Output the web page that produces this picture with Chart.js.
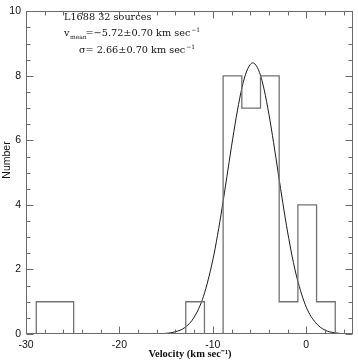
<!DOCTYPE html>
<html><head><meta charset="utf-8">
<script src="https://cdn.jsdelivr.net/npm/chart.js@4.4.1/dist/chart.umd.min.js"></script>
<style>html,body{margin:0;padding:0;background:#fff;}#wrap{width:358px;height:362px;}</style>
</head><body><div id="wrap"><canvas id="c" width="358" height="362"></canvas></div>
<script>
// Histogram (bin edges in km/s, counts per bin)
const binEdges = [-28.9,-26.9,-24.9,-22.9,-20.9,-18.9,-16.9,-14.9,-12.9,-10.9,-8.9,-6.9,-4.9,-2.9,-0.9,1.1,3.1];
const binCounts = [1,1,0,0,0,0,0,0,1,0,8,7,8,1,4,1];
// Gaussian fit curve
const fitX = [-16,-15,-14,-13,-12,-11,-10,-9.5,-9,-8.5,-8,-7.5,-7,-6.5,-6,-5.75,-5.5,-5,-4.5,-4,-3.5,-3,-2.5,-2,-1.5,-1,0,1,2,3,4,5];
const fitY = [0.01,0.02,0.07,0.20,0.52,1.17,2.30,3.06,3.93,4.87,5.82,6.71,7.48,8.05,8.35,8.40,8.37,8.10,7.56,6.81,5.93,4.98,4.04,3.16,2.39,1.74,0.83,0.35,0.12,0.04,0.01,0.00];
// Tick labels
const xTickLabels = [-30,-20,-10,0];
const yTickLabels = [0,2,4,6,8,10];
const xMinorStep = 2, yMinorStep = 0.5;
const annotation = {
  line1: 'L1688 32 sources',
  vSymbol: 'v', vSub: 'mean', vText: '=\u22125.72\u00b10.70 km sec', unitSup: '\u22121',
  sSymbol: '\u03c3', sText: '= 2.66\u00b10.70 km sec'
};
const xTitle = 'Velocity (km sec\u207b\u00b9)';
const yTitle = 'Number';

const histPts = [{x: binEdges[0], y: 0}];
binCounts.forEach((c, i) => histPts.push({x: binEdges[i], y: c}));
histPts.push({x: binEdges[binEdges.length - 1], y: 0});
const fitPts = fitX.map((v, i) => ({x: v, y: fitY[i]}));

const frame = {
  id: 'frame',
  afterDatasetsDraw(chart) {
    const {ctx, chartArea: a, scales: {x, y}} = chart;
    const L = Math.round(a.left) + 0.5, R = Math.round(a.right) - 0.5;
    const T = Math.round(a.top) + 0.5, B = Math.round(a.bottom) - 0.5;
    ctx.save();
    ctx.strokeStyle = '#6a6a6a';
    ctx.lineWidth = 1;
    ctx.strokeRect(L, T, R - L, B - T);
    ctx.beginPath();
    const xmin = x.min, xmax = x.max, ymin = y.min, ymax = y.max;
    for (let v = xmin; v <= xmax + 1e-9; v += xMinorStep) {
      const major = xTickLabels.includes(Math.round(v));
      const len = major ? 7 : 4;
      const px = Math.round(x.getPixelForValue(v)) + 0.5;
      ctx.moveTo(px, B); ctx.lineTo(px, B - len);
      ctx.moveTo(px, T); ctx.lineTo(px, T + len);
    }
    for (let v = ymin; v <= ymax + 1e-9; v += yMinorStep) {
      const major = yTickLabels.includes(v);
      const len = major ? 7 : 4;
      const py = Math.round(y.getPixelForValue(v)) + 0.5;
      ctx.moveTo(L, py); ctx.lineTo(L + len, py);
      ctx.moveTo(R, py); ctx.lineTo(R - len, py);
    }
    ctx.stroke();

    // annotation text
    ctx.fillStyle = '#111';
    ctx.textBaseline = 'alphabetic';
    ctx.textAlign = 'left';
    const big = '9.7px "DejaVu Serif"', small = '6px "DejaVu Serif"';
    ctx.font = big;
    ctx.fillText(annotation.line1, 64, 20);
    ctx.fillText(annotation.vSymbol, 64, 36);
    ctx.font = small;
    ctx.fillText(annotation.vSub, 70, 38.5);
    ctx.font = big;
    const eqX = 85.5;
    ctx.fillText(annotation.vText, eqX, 36);
    let w = ctx.measureText(annotation.vText).width;
    ctx.font = small;
    ctx.fillText(annotation.unitSup, eqX + w + 1, 32);
    ctx.font = big;
    ctx.fillText(annotation.sSymbol, 79, 53);
    ctx.fillText(annotation.sText, eqX, 53);
    w = ctx.measureText(annotation.sText).width;
    ctx.font = small;
    ctx.fillText(annotation.unitSup, eqX + w + 1, 49);

    // axis titles
    ctx.font = 'bold 10.5px "Liberation Serif"';
    ctx.textAlign = 'center';
    ctx.textBaseline = 'middle';
    ctx.fillText(xTitle, 190, 354.5);
    ctx.font = '10.5px "Liberation Sans"';
    ctx.translate(7.5, 160);
    ctx.rotate(-Math.PI / 2);
    ctx.fillText(yTitle, 0, 0);
    ctx.restore();
  }
};

new Chart(document.getElementById('c'), {
  type: 'scatter',
  data: {
    datasets: [
      {data: histPts, showLine: true, stepped: true, borderColor: '#727272', borderWidth: 1.3, pointRadius: 0, fill: false},
      {data: fitPts, showLine: true, cubicInterpolationMode: 'monotone', borderColor: '#1a1a1a', borderWidth: 1, pointRadius: 0, fill: false}
    ]
  },
  options: {
    responsive: false,
    animation: false,
    devicePixelRatio: 1,
    layout: {padding: {top: 3, right: 1, left: 0, bottom: 0}},
    plugins: {legend: {display: false}, tooltip: {enabled: false}},
    scales: {
      x: {
        type: 'linear', min: -30, max: 5,
        grid: {display: false, drawTicks: false},
        border: {display: false},
        ticks: {
          stepSize: 10, padding: 5, maxRotation: 0, autoSkip: false,
          color: '#111', font: {family: 'Liberation Sans', size: 10.5},
          callback: v => xTickLabels.includes(v) ? String(v) : ''
        },
        afterFit: s => { s.height = 28; }
      },
      y: {
        type: 'linear', min: 0, max: 10,
        grid: {display: false, drawTicks: false},
        border: {display: false},
        ticks: {
          stepSize: 2, padding: 5,
          color: '#111', font: {family: 'Liberation Sans', size: 10.5},
          callback: v => yTickLabels.includes(v) ? String(v) : ''
        },
        afterFit: s => { s.width = 26; }
      }
    }
  },
  plugins: [frame]
});
</script></body></html>
